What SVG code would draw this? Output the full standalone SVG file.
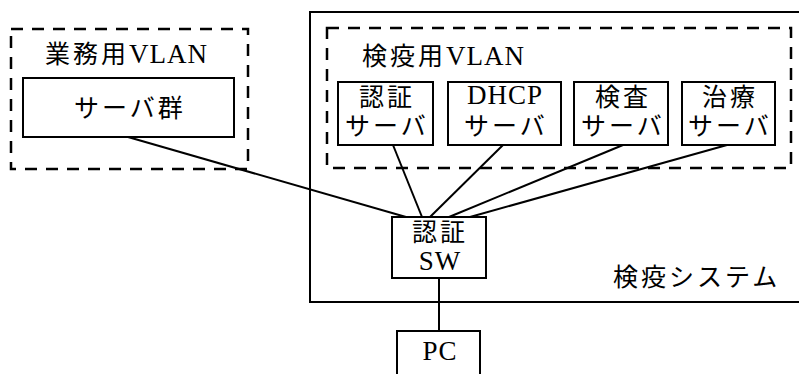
<svg xmlns="http://www.w3.org/2000/svg" width="799" height="374" viewBox="0 0 799 374">
<style>
.box{fill:#fff;stroke:#000;stroke-width:2}
.dash{fill:none;stroke:#000;stroke-width:2.5;stroke-dasharray:12 9}
.sys{fill:none;stroke:#000;stroke-width:2}
.t{font-family:"Liberation Serif","Noto Sans CJK JP",serif;font-size:25px;letter-spacing:3px;fill:#000}
.l{font-size:27px;letter-spacing:1px}
.c{text-anchor:middle}
.ln{stroke:#000;stroke-width:2;fill:none}
</style>
<rect width="799" height="374" fill="#fff"/>
<g id="system">
<rect class="sys" x="310" y="12" width="500" height="290"/>
<text class="t" x="613" y="286">検疫システム</text>
</g>
<g id="vlan-business">
<rect class="dash" x="11" y="29" width="237" height="140"/>
<text class="t" x="45" y="63">業務用<tspan class="l">VLAN</tspan></text>
</g>
<g id="vlan-quarantine">
<rect class="dash" x="327" y="28" width="464" height="140"/>
<text class="t" x="362" y="65">検疫用<tspan class="l">VLAN</tspan></text>
</g>
<g id="connectors">
<line class="ln" x1="128" y1="137" x2="406" y2="217"/>
<line class="ln" x1="393" y1="145" x2="422" y2="217"/>
<line class="ln" x1="503" y1="145" x2="430" y2="217"/>
<line class="ln" x1="623" y1="145" x2="449" y2="217"/>
<line class="ln" x1="727" y1="145" x2="470" y2="217"/>
<line class="ln" x1="439" y1="278" x2="439" y2="331"/>
</g>
<g id="server-group">
<rect class="box" x="23" y="78" width="211" height="59"/>
<text class="t c" x="130" y="117">サーバ群</text>
</g>
<g id="auth-server">
<rect class="box" x="338" y="82" width="95" height="63"/>
<text class="t c" x="387" y="106">認証</text>
<text class="t c" x="387" y="135">サーバ</text>
</g>
<g id="dhcp-server">
<rect class="box" x="448" y="82" width="113" height="63"/>
<text class="t l c" x="505" y="104">DHCP</text>
<text class="t c" x="506" y="135">サーバ</text>
</g>
<g id="inspect-server">
<rect class="box" x="574" y="82" width="94" height="63"/>
<text class="t c" x="623" y="106">検査</text>
<text class="t c" x="623" y="135">サーバ</text>
</g>
<g id="remedy-server">
<rect class="box" x="682" y="82" width="93" height="63"/>
<text class="t c" x="730" y="106">治療</text>
<text class="t c" x="730" y="135">サーバ</text>
</g>
<g id="auth-sw">
<rect class="box" x="392" y="217" width="94" height="61"/>
<text class="t c" x="440" y="241">認証</text>
<text class="t l c" x="440" y="270">SW</text>
</g>
<g id="pc">
<rect class="box" x="397" y="331" width="83" height="60"/>
<text class="t l c" x="440" y="360">PC</text>
</g>
</svg>
